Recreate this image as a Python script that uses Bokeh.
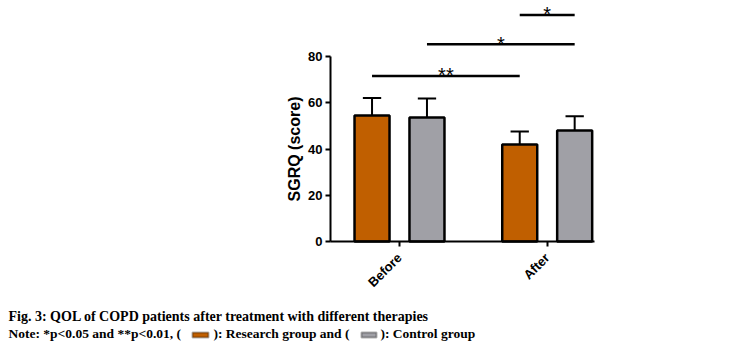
import math
from bokeh.plotting import figure
from bokeh.models import Range1d, FixedTicker, ColumnDataSource, Label, BoxAnnotation
from bokeh.core.properties import value
from bokeh.embed import file_html
from bokeh.resources import INLINE

# ---- data ----
groups = ["Before", "After"]
series = ["Research group", "Control group"]
research_mean = [54.5, 42.0]
research_sd = [7.6, 5.6]
control_mean = [53.6, 48.0]
control_sd = [8.2, 6.2]
y_ticks = [0, 20, 40, 60, 80]
sig_from = [0, 1, 2]
sig_to = [2, 3, 3]
sig_y = [71.6, 85.3, 98.0]
sig_text = ["**", "*", "*"]

caption_line1 = "Fig. 3: QOL of COPD patients after treatment with different therapies"
caption_parts = ["Note: *p<0.05 and **p<0.01, (", "): Research group and (", "): Control group"]

orange = "#C05F00"
gray = "#A0A0A6"

offset = 0.186
bar_w = 0.237
xs, tops, sds, colors = [], [], [], []
for gi, g in enumerate(groups):
    xs += [gi - offset, gi + offset]
    tops += [research_mean[gi], control_mean[gi]]
    sds += [research_sd[gi], control_sd[gi]]
    colors += [orange, gray]

W, H = 729, 355
PX_X = 147.7      # px per category unit
X0_PX = 399       # pixel of first category
PX_Y = 2.3125     # px per score unit
Y0_PX = 241       # pixel of score 0
AX_LEFT = -0.467  # x position of the y axis

p = figure(width=W, height=H,
           x_range=Range1d(-X0_PX / PX_X, (W - X0_PX) / PX_X),
           y_range=Range1d(-(H - Y0_PX) / PX_Y, Y0_PX / PX_Y),
           output_backend="svg", toolbar_location=None, min_border=0)
p.outline_line_color = None
p.xgrid.visible = False
p.ygrid.visible = False

src = ColumnDataSource(dict(x=xs, top=tops, color=colors,
                            err=[t + s for t, s in zip(tops, sds)]))
p.segment(x0="x", y0="top", x1="x", y1="err", source=src, line_color="black", line_width=2)
cap = 0.062
p.segment(x0=[x - cap for x in xs], y0=src.data["err"], x1=[x + cap for x in xs], y1=src.data["err"],
          line_color="black", line_width=2)
p.vbar(x="x", top="top", bottom=0, width=bar_w, source=src, fill_color="color",
       line_color="black", line_width=2.5)

sx0 = [xs[i] for i in sig_from]
sx1 = [xs[j] for j in sig_to]
p.segment(x0=sx0, y0=sig_y, x1=sx1, y1=sig_y, line_color="black", line_width=2.5)
p.text(x=[(a + b) / 2 for a, b in zip(sx0, sx1)], y=[y + 0.3 for y in sig_y], text=sig_text,
       text_font=value("Liberation Sans"), text_font_size="20px", text_align="center",
       text_baseline="alphabetic", text_color="black")

for ax in (p.xaxis[0], p.yaxis[0]):
    ax.axis_line_width = 2
    ax.axis_line_color = "black"
    ax.major_tick_line_width = 2
    ax.major_tick_out = 5
    ax.major_tick_in = 0
    ax.minor_tick_line_color = None
    ax.major_label_text_font = "Liberation Sans"
    ax.major_label_text_font_style = "bold"
    ax.major_label_text_font_size = "13px"
    ax.major_label_text_color = "black"

p.yaxis.ticker = FixedTicker(ticks=y_ticks)
p.yaxis.bounds = (0, 80)
p.yaxis.fixed_location = AX_LEFT
p.yaxis.major_label_standoff = 3

p.xaxis.ticker = FixedTicker(ticks=list(range(len(groups))))
p.xaxis.major_label_overrides = {i: g for i, g in enumerate(groups)}
p.xaxis.bounds = (AX_LEFT, 1.32)
p.xaxis.fixed_location = 0
p.xaxis.major_label_orientation = math.pi / 4
p.xaxis.major_label_standoff = 9

# y axis title, centred on the axis bounds
p.add_layout(Label(x=294, y=40, x_units="screen", y_units="data", text="SGRQ (score)",
                   angle=math.pi / 2, text_align="center", text_baseline="middle",
                   text_font="Liberation Sans", text_font_style="bold", text_font_size="16px",
                   text_color="black"))

cap_font = "Liberation Serif"
p.add_layout(Label(x=8, y=H - 315.5, x_units="screen", y_units="screen", text=caption_line1,
                   text_font=cap_font, text_font_size="14px", text_font_style="bold",
                   text_baseline="alphabetic", text_color="black"))
part_x = [8, 213, 380]
for px, t in zip(part_x, caption_parts):
    p.add_layout(Label(x=px, y=H - 333, x_units="screen", y_units="screen", text=t,
                       text_font=cap_font, text_font_size="13.5px", text_font_style="bold",
                       text_baseline="alphabetic", text_color="black"))
for (l, r), col in zip([(192, 208), (361, 376)], [orange, gray]):
    p.add_layout(BoxAnnotation(left=l, right=r, top=H - 332, bottom=H - 337,
                               left_units="screen", right_units="screen",
                               top_units="screen", bottom_units="screen",
                               fill_color=col, fill_alpha=1, line_color="black", line_width=2))

open("out.html", "w").write(file_html(p, INLINE))
